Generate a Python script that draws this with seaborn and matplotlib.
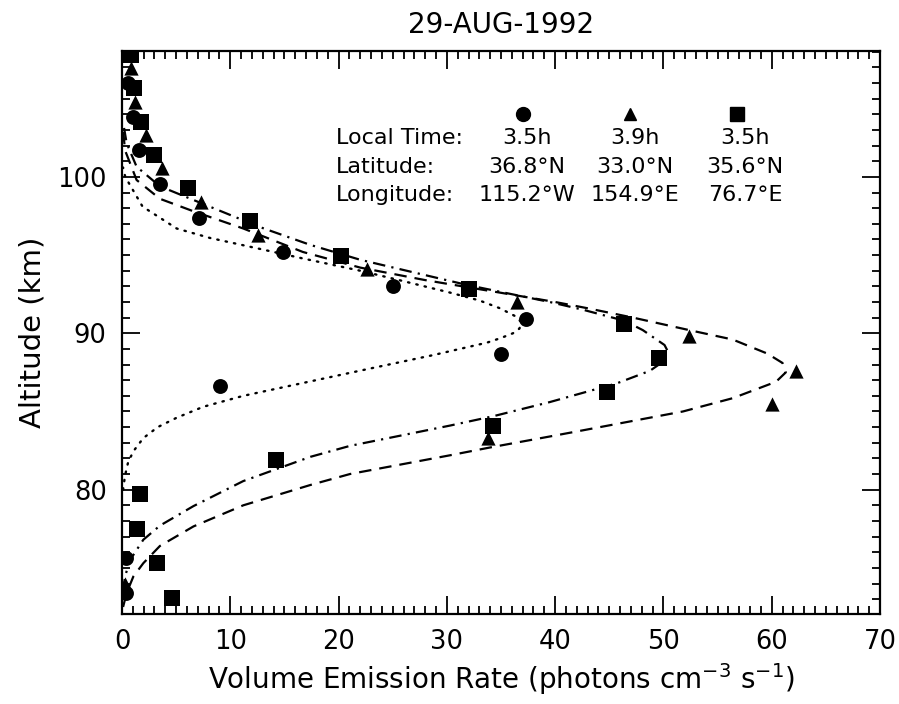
import matplotlib
matplotlib.use("Agg")
import matplotlib.pyplot as plt
import seaborn as sns
import pandas as pd
from matplotlib.ticker import MultipleLocator

# ---------------- data ----------------
circle_x = [0.6, 1.0, 1.6, 3.5, 7.1, 14.9, 25.0, 37.3, 35.0, 9.05, 0.4, 0.4]
circle_alt = [106.0, 103.8, 101.7, 99.55, 97.35, 95.2, 93.05, 90.9, 88.7, 86.6, 75.6, 73.4]

tri_x = [0.8, 1.2, 2.2, 3.7, 7.3, 12.6, 22.6, 36.5, 52.4, 62.2, 60.05, 33.8, 0.3]
tri_alt = [106.95, 104.8, 102.7, 100.6, 98.4, 96.3, 94.1, 92.0, 89.8, 87.6, 85.5, 83.3, 74.0]

sq_x = [0.8, 1.1, 1.8, 3.0, 6.07, 11.8, 20.2, 32.0, 46.35, 49.6, 44.75, 34.3, 14.2, 1.66, 1.35, 3.26, 4.6]
sq_alt = [107.8, 105.7, 103.5, 101.4, 99.3, 97.15, 94.95, 92.8, 90.6, 88.45, 86.25, 84.1, 81.9, 79.75, 77.5, 75.3, 73.1]

# model curves (dotted: circles, dashed: triangles, dash-dot: squares)
dot_x = [0.1, 0.3, 1.9, 5.05, 8.1, 12.7, 16.6, 22.0, 25.0, 30.3, 33.0, 34.9, 36.3, 36.9, 36.7,
         36.1, 35.0, 33.7, 28.7, 22.6, 16.9, 11.2, 7.5, 5.05, 3.3, 1.97, 1.1, 0.58, 0.28, 0.1]
dot_alt = [100.6, 100.0, 98.1, 96.7, 96.1, 95.4, 94.8, 94.0, 93.5, 92.6, 92.1, 91.6, 91.1, 90.7, 90.3,
           90.0, 89.7, 89.4, 88.6, 87.7, 86.85, 86.0, 85.3, 84.6, 84.0, 83.3, 82.5, 81.8, 80.9, 80.0]

dash_x = [0.1, 0.28, 1.35, 3.5, 6.6, 11.2, 16.7, 22.0, 28.0, 34.9, 40.0, 43.0, 47.2, 52.4, 56.4,
          59.6, 61.0, 61.3, 60.4, 56.4, 51.8, 47.2, 42.6, 39.5, 34.0, 30.3, 21.05, 17.4, 11.2, 6.6,
          3.5, 1.97, 1.05, 0.43, 0.1]
dash_alt = [103.0, 101.7, 99.8, 98.6, 97.8, 96.7, 95.2, 94.2, 93.4, 92.6, 92.0, 91.6, 91.0, 90.2, 89.6,
            88.7, 88.1, 87.5, 86.9, 85.85, 85.0, 84.4, 83.8, 83.4, 82.7, 82.2, 81.0, 80.3, 79.0, 77.65,
            76.4, 75.3, 74.45, 73.4, 72.5]

dd_x = [0.1, 0.43, 1.35, 3.5, 8.1, 12.7, 17.4, 22.0, 27.2, 31.8, 36.0, 39.5, 42.6, 46.4, 48.1,
        50.1, 50.4, 50.0, 48.75, 45.7, 42.6, 39.5, 34.3, 30.3, 21.05, 17.4, 11.2, 6.6, 3.5, 1.97,
        0.74, 0.28, 0.1]
dd_alt = [103.5, 102.15, 100.65, 99.4, 98.1, 96.8, 95.65, 94.7, 93.85, 93.1, 92.5, 92.0, 91.5, 90.8, 90.2,
          89.25, 88.85, 88.2, 87.6, 86.8, 86.2, 85.6, 84.7, 84.1, 82.8, 82.1, 80.55, 78.95, 77.7, 76.8,
          75.5, 74.45, 73.5]

title = "29-AUG-1992"
xlabel = "Volume Emission Rate (photons cm$^{-3}$ s$^{-1}$)"
ylabel = "Altitude (km)"
info_rows = ["Local Time:", "Latitude:", "Longitude:"]
info_cols = [["3.5h", "36.8°N", "115.2°W"],
             ["3.9h", "33.0°N", "154.9°E"],
             ["3.5h", "35.6°N", "76.7°E"]]
info_markers = ["o", "^", "s"]

# ---------------- plotting ----------------
sns.set_theme(style="ticks")
plt.rcParams['font.family'] = ['DejaVu Sans']
plt.rcParams['mathtext.fontset'] = 'dejavusans'
for k in ['text.color', 'axes.labelcolor', 'xtick.color', 'ytick.color', 'axes.edgecolor']:
    plt.rcParams[k] = 'black'

W, H = 899, 704
fig = plt.figure(figsize=(W / 100, H / 100), dpi=100)
ax = fig.add_axes([122 / W, 1 - 614 / H, (880 - 122) / W, (614 - 51) / H])

lw = 1.6
sns.lineplot(x=dot_x, y=dot_alt, orient="y", ax=ax, color="black", lw=1.7,
             linestyle=(0, (0.6, 3.0)), dash_capstyle="round", estimator=None)
sns.lineplot(x=dash_x, y=dash_alt, orient="y", ax=ax, color="black", lw=lw,
             linestyle=(0, (5.6, 3.6)), estimator=None)
sns.lineplot(x=dd_x, y=dd_alt, orient="y", ax=ax, color="black", lw=lw,
             linestyle=(0, (5.6, 2.8, 1.0, 2.8)), estimator=None)

sns.scatterplot(x=circle_x, y=circle_alt, ax=ax, marker="o", s=115, color="black",
                edgecolor="black", linewidth=0, zorder=5)
sns.scatterplot(x=tri_x, y=tri_alt, ax=ax, marker="^", s=105, color="black",
                edgecolor="black", linewidth=0, zorder=5)
sns.scatterplot(x=sq_x, y=sq_alt, ax=ax, marker="s", s=120, color="black",
                edgecolor="black", linewidth=0, zorder=5)

ax.set_xlim(0, 70)
ax.set_ylim(72.05, 108.05)
ax.xaxis.set_major_locator(MultipleLocator(10))
ax.xaxis.set_minor_locator(MultipleLocator(1))
ax.yaxis.set_major_locator(MultipleLocator(10))
ax.yaxis.set_minor_locator(MultipleLocator(1))
ax.tick_params(which="both", direction="in", top=True, right=True, color="black",
               labelcolor="black", labelsize=18.5, width=1.3)
ax.tick_params(which="major", length=13, pad=11)
ax.tick_params(which="minor", length=6)
for sp in ax.spines.values():
    sp.set_linewidth(1.6)
    sp.set_color("black")
    sp.set_visible(True)

ax.set_xlabel(xlabel, fontsize=20, labelpad=4, color="black")
ax.set_ylabel(ylabel, fontsize=21, labelpad=8, color="black")
ax.set_title(title, fontsize=20, pad=13, color="black")

# info block (legend-like table)
row_y = [138, 167, 195]
col_x = [527, 635, 745]
for r, txt in enumerate(info_rows):
    fig.text(336 / W, 1 - row_y[r] / H, txt, fontsize=16, ha="left", va="center", color="black")
for c, vals in enumerate(info_cols):
    for r, v in enumerate(vals):
        fig.text(col_x[c] / W, 1 - row_y[r] / H, v, fontsize=16, ha="center", va="center",
                 color="black")
marker_x = [523, 630, 737]
for c, m in enumerate(info_markers):
    ax.plot([marker_x[c] / W], [1 - 114 / H], marker=m, color="black", ms=10 if m != "^" else 9,
            transform=fig.transFigure, clip_on=False, linestyle="none")

fig.savefig("out.png", dpi=100)
